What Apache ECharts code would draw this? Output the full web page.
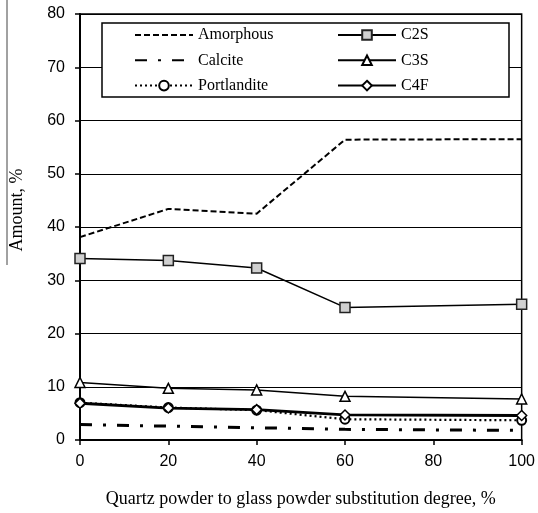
<!DOCTYPE html>
<html>
<head>
<meta charset="utf-8">
<script src="https://cdn.jsdelivr.net/npm/echarts@6/dist/echarts.min.js"></script>
<style>
  html, body { margin: 0; padding: 0; background: #fff; }
  #chart { width: 538px; height: 513px; }
</style>
</head>
<body>
<div id="chart"></div>
<script>
// Substitution degree (%) on the x axis
const substitution = [0, 20, 40, 60, 100];

// Phase amounts (%) for each substitution degree
const amorphous   = [38.1, 43.4, 42.5, 56.4, 56.5];
const calcite     = [2.9, 2.6, 2.3, 2.0, 1.8];
const portlandite = [7.0, 6.1, 5.6, 3.9, 3.7];
const c2s         = [34.1, 33.7, 32.3, 24.9, 25.5];
const c3s         = [10.8, 9.7, 9.4, 8.2, 7.7];
const c4f         = [6.9, 6.0, 5.7, 4.7, 4.6];

const xTicks = [0, 20, 40, 60, 80, 100];
const yTicks = [0, 10, 20, 30, 40, 50, 60, 70, 80];

const pairs = vals => substitution.map((x, i) => [x, vals[i]]);

const chart = echarts.init(document.getElementById('chart'));

const serif = 'Liberation Serif';
const sans = 'Liberation Sans';

const legendCommon = {
  orient: 'vertical',
  padding: 0,
  top: 27,
  itemWidth: 58,
  itemHeight: 12,
  itemGap: 9.3,
  textStyle: { fontFamily: serif, fontSize: 16, color: '#000' }
};

// lines without markers keep a plain line sample in the legend
const noMarker = name => ({ name: name, itemStyle: { opacity: 0 } });

chart.setOption({
  animation: false,
  backgroundColor: '#fff',
  grid: {
    left: 78, right: 14, top: 14, bottom: 72,
    show: true, borderColor: '#000', borderWidth: 1.5, backgroundColor: 'transparent'
  },
  legend: [
    Object.assign({ left: 134, data: [noMarker('Amorphous'), noMarker('Calcite'), 'Portlandite'] }, legendCommon),
    Object.assign({ left: 337, data: ['C2S', 'C3S', 'C4F'] }, legendCommon)
  ],
  graphic: [
    {
      type: 'rect', z: 3,
      shape: { x: 102, y: 23, width: 407, height: 74 },
      style: { fill: '#fff', stroke: '#000', lineWidth: 1.5 }
    },
    {
      type: 'line', z: 3,
      shape: { x1: 7, y1: 0, x2: 7, y2: 265 },
      style: { stroke: '#444', lineWidth: 1 }
    }
  ],
  xAxis: {
    type: 'value',
    min: xTicks[0], max: xTicks[xTicks.length - 1], interval: 20,
    name: 'Quartz powder to glass powder substitution degree, %',
    nameLocation: 'middle', nameGap: 50,
    nameTextStyle: { fontFamily: serif, fontSize: 18, color: '#000' },
    axisLine: { lineStyle: { color: '#000', width: 2 } },
    axisTick: { show: true, inside: false, length: 5, lineStyle: { color: '#000', width: 1.5 } },
    axisLabel: { fontFamily: sans, fontSize: 16, color: '#000', margin: 14 },
    splitLine: { show: false }
  },
  yAxis: {
    type: 'value',
    min: yTicks[0], max: yTicks[yTicks.length - 1], interval: 10,
    name: 'Amount, %',
    nameLocation: 'middle', nameGap: 54, nameRotate: 90,
    nameTextStyle: { fontFamily: serif, fontSize: 18, color: '#000', padding: [0, 0, 0, 34] },
    axisLine: { lineStyle: { color: '#000', width: 2 } },
    axisTick: { show: true, inside: false, length: 5, lineStyle: { color: '#000', width: 1.5 } },
    axisLabel: { fontFamily: sans, fontSize: 16, color: '#000', margin: 15 },
    splitLine: { show: true, lineStyle: { color: '#000', width: 1 } }
  },
  series: [
    {
      name: 'Amorphous', type: 'line', data: pairs(amorphous),
      showSymbol: false, symbol: 'none',
      lineStyle: { color: '#000', width: 2, type: [6, 3] },
      itemStyle: { color: '#000' }
    },
    {
      name: 'Calcite', type: 'line', data: pairs(calcite),
      showSymbol: false, symbol: 'none',
      lineStyle: { color: '#000', width: 3, type: [12, 11, 3, 11] },
      itemStyle: { color: '#000' }
    },
    {
      name: 'Portlandite', type: 'line', data: pairs(portlandite),
      symbol: 'circle', symbolSize: 9,
      lineStyle: { color: '#000', width: 2.2, type: [2, 3] },
      itemStyle: { color: '#fff', borderColor: '#000', borderWidth: 2 }
    },
    {
      name: 'C2S', type: 'line', data: pairs(c2s),
      symbol: 'rect', symbolSize: 10,
      lineStyle: { color: '#000', width: 1.5 },
      itemStyle: { color: '#d0d0d0', borderColor: '#222', borderWidth: 1.5 }
    },
    {
      name: 'C3S', type: 'line', data: pairs(c3s),
      symbol: 'triangle', symbolSize: 10,
      lineStyle: { color: '#000', width: 1.5 },
      itemStyle: { color: '#fff', borderColor: '#000', borderWidth: 1.5 }
    },
    {
      name: 'C4F', type: 'line', data: pairs(c4f),
      symbol: 'diamond', symbolSize: 10,
      lineStyle: { color: '#000', width: 2.8 },
      itemStyle: { color: '#fff', borderColor: '#000', borderWidth: 1.5 }
    }
  ]
});
</script>
</body>
</html>
